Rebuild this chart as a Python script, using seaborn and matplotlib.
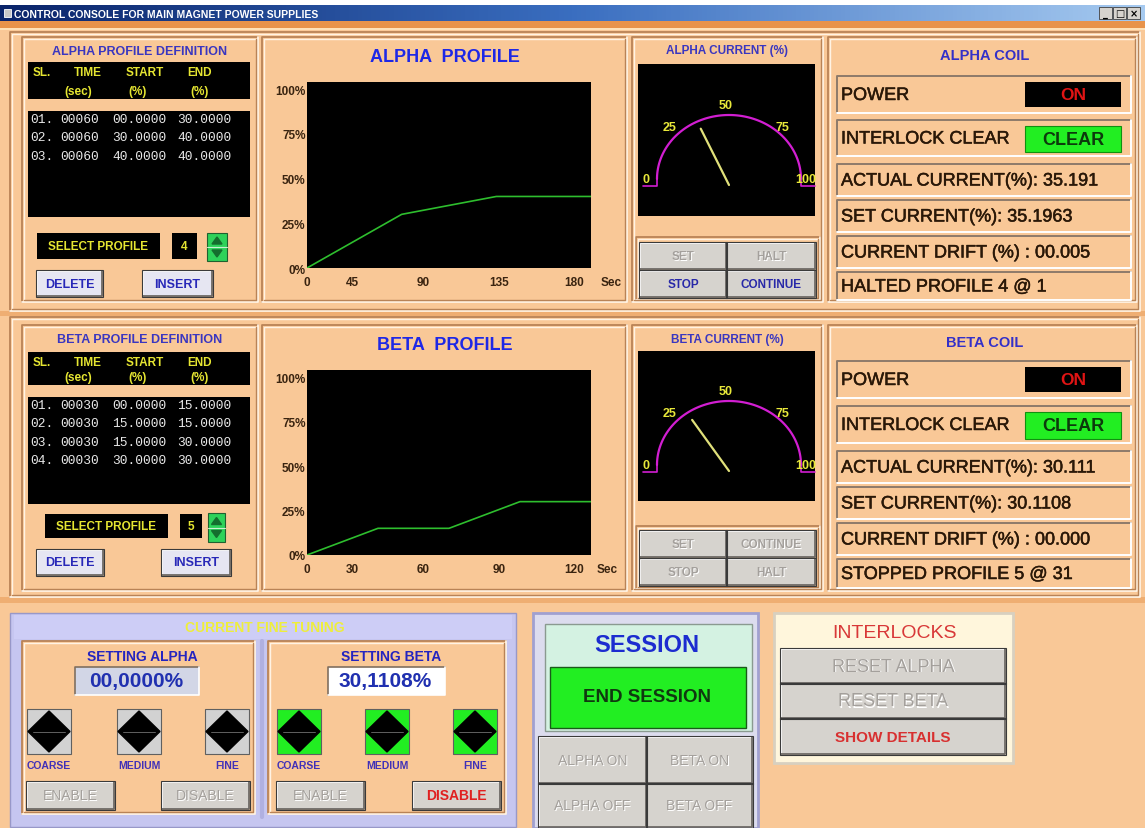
import numpy as np
import pandas as pd
import seaborn as sns
import matplotlib.pyplot as plt
import matplotlib.patheffects as pe
from matplotlib.patches import Rectangle, Polygon

# ---- data read off the console ----
# profile definition tables: segment time (sec), start %, end %
alpha_time = [60, 60, 60]
alpha_start = [0.0, 30.0, 40.0]
alpha_end = [30.0, 40.0, 40.0]
beta_time = [30, 30, 30, 30]
beta_start = [0.0, 15.0, 15.0, 30.0]
beta_end = [15.0, 15.0, 30.0, 30.0]

alpha_xlabels = ["0", "45", "90", "135", "180"]
beta_xlabels = ["0", "30", "60", "90", "120"]
y_ticks = [0, 25, 50, 75, 100]
gauge_ticks = [0, 25, 50, 75, 100]

alpha_actual = 35.191
alpha_set = 35.1963
alpha_drift = 0.005
beta_actual = 30.111
beta_set = 30.1108
beta_drift = 0.000
alpha_profile = 4
beta_profile = 5
alpha_status = "HALTED PROFILE 4 @ 1"
beta_status = "STOPPED PROFILE 5 @ 31"
alpha_fine = "00,0000%"
beta_fine = "30,1108%"

# ---- look ----
W, H = 1145, 829
PEACH = "#F9C897"
DARK = "#B98356"
LIGHT = "#FFF3E4"
BTN = "#D6D3CE"
GREEN = "#22EE22"
NARROW = ["Liberation Sans Narrow", "Liberation Sans", "DejaVu Sans"]
SANS = ["Liberation Sans", "DejaVu Sans"]
MONO = ["Liberation Mono", "DejaVu Sans Mono"]
XFRAC = [0.0, 0.16, 0.41, 0.675, 0.94]   # where the console puts its x labels

sns.set_style("white")
plt.rcParams["font.family"] = SANS

fig = plt.figure(figsize=(W / 100, H / 100), dpi=100)
fig.patch.set_facecolor(PEACH)
ax = fig.add_axes([0, 0, 1, 1])
ax.set_xlim(0, W)
ax.set_ylim(H, 0)
ax.axis("off")


def rect(x0, y0, x1, y1, fc, ec="none", lw=1, z=1):
    ax.add_patch(Rectangle((x0, y0), x1 - x0, y1 - y0, facecolor=fc,
                           edgecolor=ec, linewidth=lw, zorder=z))


def bevel(x0, y0, x1, y1, fc, hi=LIGHT, lo=DARK, lw=1.2, z=2):
    rect(x0, y0, x1, y1, fc, z=z)
    ax.plot([x0, x0, x1], [y1, y0, y0], color=hi, lw=lw, zorder=z + 0.1)
    ax.plot([x0, x1, x1], [y1, y1, y0], color=lo, lw=lw, zorder=z + 0.1)


def panel(x0, y0, x1, y1, fc=PEACH, z=1):
    bevel(x0, y0, x1, y1, fc, hi=DARK, lo=LIGHT, lw=1.3, z=z)
    ax.plot([x0 + 2, x0 + 2, x1 - 2], [y1 - 2, y0 + 2, y0 + 2], color=LIGHT, lw=1, zorder=z + 0.2)
    ax.plot([x0 + 2, x1 - 2, x1 - 2], [y1 - 2, y1 - 2, y0 + 2], color=DARK, lw=1, zorder=z + 0.2)


def text(x, y, s, size, color, weight="bold", ha="center", family=NARROW, z=6, heavy=0):
    t = ax.text(x, y, s, fontsize=size, color=color, fontweight=weight, ha=ha,
                va="center", family=family, zorder=z)
    if heavy:
        t.set_path_effects([pe.withStroke(linewidth=heavy, foreground=color)])


def button(x0, y0, x1, y1, label, color, size=9, fc=BTN, weight="bold", family=NARROW, z=4):
    bevel(x0, y0, x1, y1, fc, hi="white", lo="#6E6A66", lw=1.3, z=z)
    rect(x0 - 1, y0 - 1, x1 + 1, y1 + 1, "none", ec="#3A3A3A", lw=0.8, z=z + 0.2)
    if color == GRAY:
        text((x0 + x1) / 2 + 1, (y0 + y1) / 2 + 1, label, size, "white", weight, family=family, z=z + 0.3)
    text((x0 + x1) / 2, (y0 + y1) / 2, label, size, color, weight, family=family, z=z + 0.4)


GRAY = "#A4A09C"
BLUE = "#2828A8"

# ---- window title bar ----
grad = np.linspace(0, 1, 256).reshape(1, -1)
ax.imshow(grad, extent=(0, W, 22, 6), aspect="auto", zorder=2,
          cmap=plt.matplotlib.colors.LinearSegmentedColormap.from_list(
              "tb", ["#0A246A", "#3A6EC0", "#A6CAF0"]))
rect(0, 0, W, 6, "white", z=2)
rect(4, 10, 11, 18, "#C8C8C8", ec="white", lw=0.6, z=3)
text(14, 14.5, "CONTROL CONSOLE FOR MAIN MAGNET POWER SUPPLIES", 7.5, "white", ha="left", z=4)
for i, g in enumerate(["_", "\u25a1", "\u00d7"]):
    bx = 1099 + i * 14
    rect(bx, 8, bx + 13, 20, BTN, ec="#404040", lw=0.6, z=3)
    text(bx + 6.5, 14, g, 7, "black", family=["DejaVu Sans"], z=4)
rect(0, 22, W, 29, "#E8934A", z=2)
rect(0, 29, W, 31, "#FFE2B8", z=2)

# ---- section frames ----
panel(10, 33, 1140, 312)
panel(10, 318, 1140, 598)
rect(0, 312, W, 317, "#EFAE72", z=0.5)
rect(0, 598, W, 604, "#EFAE72", z=0.5)


def profile_def(px, py, title, times, starts, ends, prof, hdr, data, sel, num, spin, dl, ins):
    panel(px[0], py[0], px[1], py[1])
    text(140, py[0] + 14, title, 9, "#3A36C0")
    rect(28, hdr[0], 250, hdr[1], "black", z=3)
    r1 = hdr[0] + 10
    r2 = hdr[1] - 8
    for s, x in zip(["SL.", "TIME", "START", "END"], [42, 88, 145, 200]):
        text(x, r1, s, 8.5, "#E6E632")
    for s, x in zip(["(sec)", "(%)", "(%)"], [78, 138, 200]):
        text(x, r2, s, 8.5, "#E6E632")
    rect(28, data[0], 250, data[1], "black", z=3)
    for i, (t, s, e) in enumerate(zip(times, starts, ends)):
        y = data[0] + 8 + i * 18.3
        for val, x in zip([f"{i + 1:02d}.", f"{t:05d}", f"{s:07.4f}", f"{e:07.4f}"],
                          [30, 60, 112, 177]):
            text(x, y, val, 9.3, "#E8E8E8", weight="normal", ha="left", family=MONO)
    rect(sel[0], sel[2], sel[1], sel[3], "black", z=3)
    text((sel[0] + sel[1]) / 2, (sel[2] + sel[3]) / 2, "SELECT PROFILE", 8.5, "#E6E632")
    rect(num[0], sel[2], num[1], sel[3], "black", z=3)
    text((num[0] + num[1]) / 2, (sel[2] + sel[3]) / 2, str(prof), 8.5, "#E6E632")
    rect(spin[0], spin[1], spin[2], spin[3], "#2ED25A", ec="#206030", lw=0.8, z=3)
    sx = (spin[0] + spin[2]) / 2
    sm = (spin[1] + spin[3]) / 2
    ax.add_patch(Polygon([[sx - 5, sm - 3], [sx + 5, sm - 3], [sx, sm - 10]], color="#146E2E", zorder=4))
    ax.add_patch(Polygon([[sx - 5, sm + 3], [sx + 5, sm + 3], [sx, sm + 10]], color="#146E2E", zorder=4))
    ax.plot([spin[0], spin[2]], [sm, sm], color="#C8F0D0", lw=0.8, zorder=4)
    button(dl[0], dl[1], dl[2], dl[3], "DELETE", "#2828B8", 9, fc="#E6E6F2")
    button(ins[0], ins[1], ins[2], ins[3], "INSERT", "#2828B8", 9, fc="#E6E6F2")


profile_def((22, 258), (38, 303), "ALPHA PROFILE DEFINITION", alpha_time, alpha_start, alpha_end,
            alpha_profile, (63, 100), (112, 218), (37, 160, 234, 260), (172, 197),
            (207, 234, 227, 262), (37, 272, 102, 297), (143, 272, 212, 297))
profile_def((22, 258), (326, 592), "BETA PROFILE DEFINITION", beta_time, beta_start, beta_end,
            beta_profile, (353, 386), (398, 505), (45, 168, 515, 539), (180, 202),
            (208, 514, 225, 543), (37, 551, 103, 576), (162, 551, 230, 576))


def profile_chart(py, title, title_y, times, starts, ends, labels, box, sec_x):
    panel(262, py[0], 627, py[1])
    text(445, title_y, title, 13, "#1E28E6", family=SANS)
    x0, y0, x1, y1 = box
    cax = fig.add_axes([x0 / W, 1 - y1 / H, (x1 - x0) / W, (y1 - y0) / H])
    df = pd.DataFrame({"t": np.concatenate([[0], np.cumsum(times)]),
                       "pct": [starts[0]] + list(ends)})
    sns.lineplot(data=df, x="t", y="pct", ax=cax, color="#2EBE2E", linewidth=1.2)
    xmax = float(np.sum(times))
    cax.set_facecolor("black")
    cax.set_xlim(0, xmax)
    cax.set_ylim(0, 104)
    for s in cax.spines.values():
        s.set_visible(False)
    cax.set_xticks([f * xmax for f in XFRAC])
    cax.set_xticklabels(labels)
    cax.set_yticks(y_ticks)
    cax.set_yticklabels([f"{v}%" for v in y_ticks])
    cax.set_xlabel("")
    cax.set_ylabel("")
    cax.tick_params(axis="x", length=0, pad=6, labelsize=8.5, labelcolor="#3A2410")
    cax.tick_params(axis="y", length=0, pad=1, labelsize=8.5, labelcolor="#3A2410")
    for lab in cax.get_xticklabels() + cax.get_yticklabels():
        lab.set_fontweight("bold")
        lab.set_family(NARROW)
    text(sec_x, y1 + 14, "Sec", 8.5, "#3A2410")


profile_chart((38, 303), "ALPHA  PROFILE", 57, alpha_time, alpha_start, alpha_end,
              alpha_xlabels, (307, 83, 591, 269), 611)
profile_chart((326, 592), "BETA  PROFILE", 345, beta_time, beta_start, beta_end,
              beta_xlabels, (307, 371, 591, 556), 607)


def gauge(py, title, title_y, box, cx, cy, value, buttons):
    panel(632, py[0], 823, py[1])
    text(727, title_y, title, 8.5, "#3A36C0")
    rect(box[0], box[1], box[2], box[3], "black", z=3)
    rx, ry = 72, 64
    t = np.linspace(0, np.pi, 120)
    ax.plot(cx - rx * np.cos(t), cy - ry * np.sin(t), color="#D21ED2", lw=1.6, zorder=4)
    for side in (-1, 1):
        ax.plot([cx + side * rx, cx + side * rx, cx + side * (box[2] - cx)],
                [cy, cy + 7, cy + 7], color="#D21ED2", lw=1.2, zorder=4)
    for v in gauge_ticks:
        a = np.pi * v / 100
        text(cx - 80 * np.cos(a) - 3, cy - 74 * np.sin(a), str(v), 9, "#E8E83A", z=5)
    a = np.pi * value / 100
    ax.plot([cx, cx - 63 * np.cos(a)], [cy + 6, cy + 6 - 63 * np.sin(a)],
            color="#E0E07A", lw=1.6, zorder=5)
    gx0, gy0, gx1, gy1 = buttons[0]
    panel(gx0, gy0, gx1, gy1)
    for (x0, y0, x1, y1, lab, col) in buttons[1:]:
        button(x0, y0, x1, y1, lab, col, 8.5, z=4)


gauge((38, 303), "ALPHA CURRENT (%)", 51, (638, 65, 815, 217), 729, 180, alpha_actual,
      [(636, 238, 820, 301),
       (640, 244, 726, 270, "SET", GRAY), (727, 244, 815, 270, "HALT", GRAY),
       (640, 272, 726, 298, "STOP", BLUE), (727, 272, 815, 298, "CONTINUE", BLUE)])
gauge((326, 592), "BETA CURRENT (%)", 340, (638, 352, 815, 502), 729, 466, beta_actual,
      [(636, 527, 820, 590),
       (640, 532, 726, 558, "SET", GRAY), (727, 532, 815, 558, "CONTINUE", GRAY),
       (640, 560, 726, 586, "STOP", GRAY), (727, 560, 815, 586, "HALT", GRAY)])


def coil(py, title, title_y, rows, actual, setp, drift, status):
    panel(828, py[0], 1137, py[1])
    text(985, title_y, title, 10.5, "#3430C8", family=SANS)
    labels = ["POWER", "INTERLOCK CLEAR", f"ACTUAL CURRENT(%): {actual:.3f}",
              f"SET CURRENT(%): {setp:.4f}", f"CURRENT DRIFT (%) : {drift:06.3f}", status]
    for (y0, y1), lab in zip(rows, labels):
        bevel(837, y0, 1131, y1, PEACH, hi="#8E7A6A", lo="white", lw=1.4, z=2)
        text(841, (y0 + y1) / 2 + 1, lab, 13, "#2A1808", weight="normal", ha="left",
             family=SANS, heavy=0.35)
    (p0, p1), (c0, c1) = rows[0], rows[1]
    rect(1025, p0 + 6, 1121, p1 - 6, "black", z=3)
    text(1073, (p0 + p1) / 2, "ON", 12.5, "#E01414", family=SANS)
    rect(1025, c0 + 6, 1121, c1 - 4, GREEN, ec="#109010", lw=0.8, z=3)
    text(1073, (c0 + c1) / 2 + 1, "CLEAR", 13, "#0C3A0C", family=SANS)


coil((38, 303), "ALPHA COIL", 56, [(77, 114), (121, 157), (165, 197), (201, 233), (237, 269), (273, 301)],
     alpha_actual, alpha_set, alpha_drift, alpha_status)
coil((326, 592), "BETA COIL", 343, [(362, 399), (407, 444), (452, 484), (488, 520), (524, 556), (560, 589)],
     beta_actual, beta_set, beta_drift, beta_status)

# ---- current fine tuning ----
rect(10, 614, 516, 828, "#C6C6F0", ec="#9898C8", lw=1, z=1)
rect(14, 616, 512, 640, "#CDCDF6", z=1.5)
text(265, 628, "CURRENT FINE TUNING", 10, "#EEEE3C")


def fine_panel(x0, x1, title, value, value_fc, sq_fc, sq_x, dis_col):
    panel(x0, 642, x1, 815)
    cx = (x0 + x1) / 2
    text(cx + 4, 657, title, 10, "#2424C0", family=SANS)
    vb = (cx - 64, cx + 60) if value_fc != "white" else (cx - 59, cx + 58)
    bevel(vb[0], 668, vb[1], 696, value_fc, hi="#807060", lo="white", lw=1.2, z=3)
    text(cx - 2, 682, value, 15, "#2030B0", family=SANS)
    for (sx, lab) in zip(sq_x, ["COARSE", "MEDIUM", "FINE"]):
        rect(sx, 710, sx + 44, 755, sq_fc, ec="#606060", lw=0.8, z=3)
        mx, my = sx + 22, 732.5
        ax.add_patch(Polygon([[mx, 712], [sx + 43, my], [mx, 753], [sx + 1, my]], color="black", zorder=4))
        ax.plot([sx + 6, sx + 38], [my, my], color="#707070", lw=0.6, zorder=5)
        text(mx, 766, lab, 7.5, "#4030B8")
    ex = sq_x[0]
    button(ex, 783, ex + 87, 810, "ENABLE", GRAY, 10, weight="normal", family=SANS)
    dx = x1 - 5 - 88
    button(dx, 783, x1 - 6, 810, "DISABLE", dis_col, 10,
           weight="bold" if dis_col != GRAY else "normal", family=SANS)


fine_panel(22, 255, "SETTING ALPHA", alpha_fine, "#D2D6E6", "#D2D2D2", [27, 117, 205], GRAY)
fine_panel(268, 506, "SETTING BETA", beta_fine, "white", GREEN, [277, 365, 453], "#E02020")
ax.plot([262, 262], [642, 818], color="#B0B0E0", lw=3, zorder=1.6)

# ---- session ----
rect(533, 614, 758, 829, "#DCDCEE", ec="#A0A0D0", lw=2, z=1)
rect(545, 625, 752, 732, "#D4F2E2", ec="#8A9A90", lw=1, z=2)
text(647, 646, "SESSION", 17, "#1C2CD0", family=SANS)
rect(550, 668, 746, 729, GREEN, ec="#1A5A1A", lw=1, z=3)
text(647, 698, "END SESSION", 13.5, "#103810", family=SANS)
button(539, 738, 646, 784, "ALPHA ON", GRAY, 10, weight="normal", family=SANS)
button(647, 738, 752, 784, "BETA ON", GRAY, 10, weight="normal", family=SANS)
button(539, 785, 646, 828, "ALPHA OFF", GRAY, 10, weight="normal", family=SANS)
button(647, 785, 752, 828, "BETA OFF", GRAY, 10, weight="normal", family=SANS)

# ---- interlocks ----
rect(774, 614, 1013, 764, "#FFF6DC", ec="#D8D0C0", lw=2, z=1)
text(895, 633, "INTERLOCKS", 14, "#D83838", weight="normal", family=SANS)
button(781, 650, 1005, 684, "RESET ALPHA", GRAY, 13, weight="normal", family=SANS)
button(781, 685, 1005, 719, "RESET BETA", GRAY, 13, weight="normal", family=SANS)
button(781, 720, 1005, 755, "SHOW DETAILS", "#D83030", 11, family=SANS)

fig.savefig("out.png", dpi=100, facecolor=fig.get_facecolor())
